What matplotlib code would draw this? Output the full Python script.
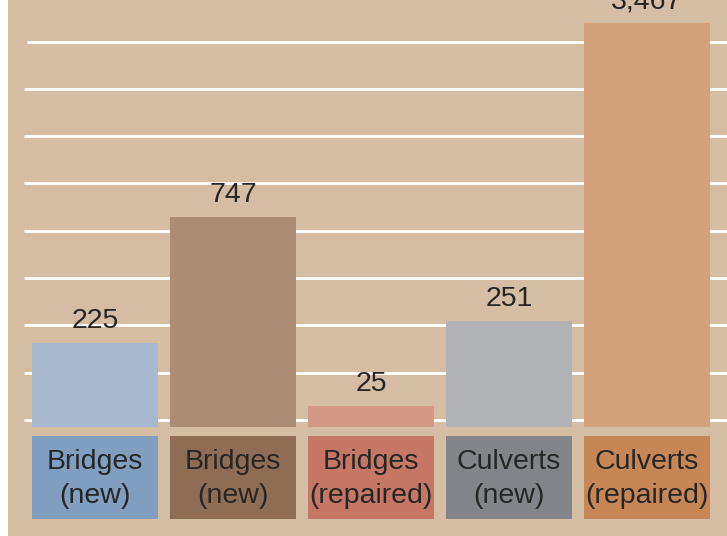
import numpy as np
import matplotlib
matplotlib.use("Agg")
import matplotlib.pyplot as plt

# dati
labels = ["Bridges\n(new)", "Bridges\n(new)", "Bridges\n(repaired)", "Culverts\n(new)", "Culverts\n(repaired)"]
values = ["225", "747", "25", "251", "3,467"]
# altezza delle barre in unita' di griglia
bar_heights = [1.78, 4.44, 0.45, 2.24, 8.54]

bar_colors = ["#A8B9CF", "#AB8C75", "#D49886", "#B1B2B5", "#D3A07A"]
box_colors = ["#809EBF", "#8F6D54", "#C57764", "#828489", "#C78656"]
bg = "#D5BDA3"
txt = "#262626"

plt.rcParams['font.family'] = ['Liberation Sans', 'DejaVu Sans']

W, H = 727, 536
fig = plt.figure(figsize=(W / 100, H / 100), dpi=100)
fig.patch.set_facecolor("white")

# pannello color sabbia
ax = fig.add_axes([8 / W, 0, (W - 8) / W, 1])
ax.set_facecolor(bg)
for s in ax.spines.values():
    s.set_visible(False)
ax.set_xticks([])
ax.set_yticks([])

step = 138.0   # px tra le barre
unit = 47.29   # px tra le linee della griglia
x0 = 95.0      # centro prima barra (px)
base = 427.0   # base delle barre (px)
ax.set_xlim((8 - x0) / step, (W - x0) / step)
ax.set_ylim(-(H - base) / unit, base / unit)

x = np.arange(len(labels))

# griglia bianca
grid_y = 0.15 + np.arange(9)
xmins = np.full(len(grid_y), (24 - x0) / step)
xmins[-1] = (27 - x0) / step
ax.hlines(grid_y, xmins, (W - x0) / step, colors="white", linewidth=2.0, zorder=1)

bw = 126 / step
ax.bar(x, bar_heights, width=bw, color=bar_colors, zorder=2)

for xi, h, v in zip(x, bar_heights, values):
    ax.annotate(v, (xi, h), xytext=(0, 10.8), textcoords="offset points",
                ha="center", va="baseline", fontsize=20.5, color=txt, zorder=3)

# riquadri con le etichette
box_top = -(436 - base) / unit
box_bot = -(519.3 - base) / unit
ax.bar(x, box_top - box_bot, bottom=box_bot, width=bw, color=box_colors, zorder=2)
for xi, lab in zip(x, labels):
    ax.text(xi, (box_top + box_bot) / 2 - 0.03, lab, ha="center", va="center",
            fontsize=20.5, color=txt, linespacing=1.38, zorder=3)

fig.savefig("out.png", dpi=100, facecolor=fig.get_facecolor())
